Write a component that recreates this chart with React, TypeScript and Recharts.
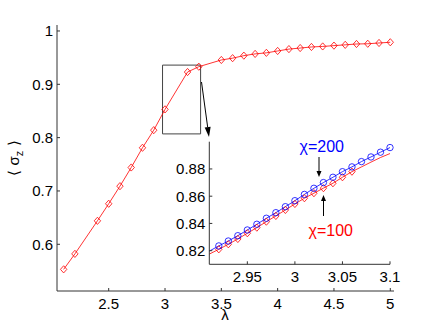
import React from 'react';
import { LineChart, Line, XAxis, YAxis, ReferenceArea } from 'recharts';

// main curve (chi = 100)
const lambdaMain = [2.1, 2.2, 2.4, 2.5, 2.6, 2.7, 2.8, 2.9, 3.0, 3.2, 3.3, 3.5, 3.6, 3.7, 3.8, 3.9, 4.0, 4.1, 4.2, 4.3, 4.4, 4.5, 4.6, 4.7, 4.8, 4.9, 5.0];
const sigmaMain = [0.553, 0.582, 0.644, 0.676, 0.709, 0.744, 0.781, 0.814, 0.853, 0.923, 0.933, 0.9456, 0.949, 0.9537, 0.957, 0.959, 0.9625, 0.966, 0.968, 0.970, 0.971, 0.9725, 0.974, 0.9756, 0.976, 0.9775, 0.9788];

// zoomed-in region
const lambdaZoom = [2.91, 2.92, 2.93, 2.94, 2.95, 2.96, 2.97, 2.98, 2.99, 3.0, 3.01, 3.02, 3.03, 3.04, 3.05, 3.06, 3.07, 3.08, 3.09, 3.1];
const sigmaChi100 = [0.8175, 0.821, 0.8247, 0.8286, 0.8328, 0.8369, 0.8413, 0.8455, 0.8499, 0.8543, 0.8585, 0.8622, 0.8659, 0.8695, 0.8739, 0.878, 0.8815, 0.885, 0.8884, 0.8913];
const sigmaChi200 = [0.8197, 0.8235, 0.8271, 0.831, 0.8352, 0.8394, 0.8438, 0.8479, 0.8523, 0.8567, 0.8613, 0.8658, 0.87, 0.8739, 0.878, 0.8815, 0.8854, 0.8888, 0.8923, 0.8957];

// markers only drawn inside these lambda ranges
const chi100Marked = [2.92, 3.06];
const chi200Marked = [2.92, 3.1];

const mainTicksX = [2.5, 3, 3.5, 4, 4.5, 5];
const mainTicksY = [0.6, 0.7, 0.8, 0.9, 1];
const zoomTicksX = [2.95, 3, 3.05, 3.1];
const zoomTicksY = [0.82, 0.84, 0.86, 0.88];

const mainData = lambdaMain.map((l, i) => ({ lambda: l, sz: sigmaMain[i] }));
const zoomData = lambdaZoom.map((l, i) => ({ lambda: l, chi100: sigmaChi100[i], chi200: sigmaChi200[i] }));

const RED = '#ff0000';
const BLUE = '#0000ff';
const AX = '#333';
const tickStyle = { fill: '#000', fontSize: 15 };

const inRange = (v: number, r: number[]) => v >= r[0] - 1e-6 && v <= r[1] + 1e-6;

function diamond(range?: number[]) {
  return (props: any) => {
    const { cx, cy, index, payload } = props;
    if (cx == null || cy == null || (range && !inRange(payload.lambda, range))) return <g key={index} />;
    return (
      <path
        key={index}
        d={`M${cx},${cy - 3.6}L${cx + 3.2},${cy}L${cx},${cy + 3.6}L${cx - 3.2},${cy}Z`}
        fill="none"
        stroke={RED}
        strokeWidth={0.8}
      />
    );
  };
}

function circle(range: number[]) {
  return (props: any) => {
    const { cx, cy, index, payload } = props;
    if (cx == null || cy == null || !inRange(payload.lambda, range)) return <g key={index} />;
    return <circle key={index} cx={cx} cy={cy} r={3.2} fill="none" stroke={BLUE} strokeWidth={0.8} />;
  };
}

function Arrow({ x1, y1, x2, y2, len = 8, half = 3 }: { x1: number; y1: number; x2: number; y2: number; len?: number; half?: number }) {
  const dx = x2 - x1;
  const dy = y2 - y1;
  const d = Math.hypot(dx, dy);
  const ux = dx / d;
  const uy = dy / d;
  const bx = x2 - ux * len;
  const by = y2 - uy * len;
  return (
    <g>
      <line x1={x1} y1={y1} x2={bx} y2={by} stroke="#000" strokeWidth={1} />
      <polygon points={`${x2},${y2} ${bx - uy * half},${by + ux * half} ${bx + uy * half},${by - ux * half}`} fill="#000" />
    </g>
  );
}

export default function App() {
  return (
    <div style={{ position: 'absolute', left: 0, top: 0, width: 436, height: 329, background: '#fff', fontFamily: '"Liberation Sans", Arial, sans-serif' }}>
      <div style={{ position: 'absolute', left: 0, top: 0 }}>
        <LineChart width={436} height={329} data={mainData} margin={{ top: 25, right: 42, bottom: 37, left: 56 }}>
          <XAxis
            type="number"
            dataKey="lambda"
            domain={[2.041, 5.033]}
            ticks={mainTicksX}
            interval={0}
            height={1}
            tickSize={-3}
            tickMargin={10}
            axisLine={{ stroke: AX }}
            tickLine={{ stroke: AX }}
            tick={tickStyle}
          />
          <YAxis
            type="number"
            domain={[0.5124, 1.0112]}
            ticks={mainTicksY}
            interval={0}
            width={1}
            tickSize={-3}
            tickMargin={7}
            axisLine={{ stroke: AX }}
            tickLine={{ stroke: AX }}
            tick={tickStyle}
          />
          <ReferenceArea x1={2.978} x2={3.316} y1={0.807} y2={0.936} fill="none" stroke="#444" strokeWidth={1} ifOverflow="visible" />
          <Line dataKey="sz" stroke={RED} strokeWidth={0.8} dot={diamond()} isAnimationActive={false} />
        </LineChart>
      </div>
      <div style={{ position: 'absolute', left: 150, top: 130 }}>
        <LineChart width={260} height={170} data={zoomData} margin={{ top: 11.7, right: 20, bottom: 34.7, left: 58.3 }}>
          <XAxis
            type="number"
            dataKey="lambda"
            domain={[2.91, 3.1]}
            ticks={zoomTicksX}
            interval={0}
            height={1}
            tickSize={-3}
            tickMargin={10}
            axisLine={{ stroke: AX }}
            tickLine={{ stroke: AX }}
            tick={tickStyle}
          />
          <YAxis
            type="number"
            domain={[0.81, 0.9]}
            ticks={zoomTicksY}
            interval={0}
            width={1}
            tickSize={-3}
            tickMargin={7}
            axisLine={{ stroke: AX }}
            tickLine={{ stroke: AX }}
            tick={tickStyle}
          />
          <Line dataKey="chi100" stroke={RED} strokeWidth={0.8} dot={diamond(chi100Marked)} isAnimationActive={false} />
          <Line dataKey="chi200" stroke={BLUE} strokeWidth={0.8} dot={circle(chi200Marked)} isAnimationActive={false} />
        </LineChart>
      </div>
      <svg width={436} height={329} style={{ position: 'absolute', left: 0, top: 0, pointerEvents: 'none' }}>
        <text transform="translate(18.5,158) rotate(-90)" textAnchor="middle" fontSize={15} fill="#000">
          {'⟨ σ'}
          <tspan fontSize={11} dy={4}>z</tspan>
          <tspan dy={-4}>{' ⟩'}</tspan>
        </text>
        <text x={225} y={319.5} textAnchor="middle" fontSize={15} fill="#000">λ</text>
        <Arrow x1={201.5} y1={82} x2={209} y2={137} len={10} half={3} />
        <text x={299.5} y={151.5} fontSize={16} fill={BLUE}>χ=200</text>
        <Arrow x1={319} y1={157} x2={319} y2={177} len={6} half={2.5} />
        <text x={308.5} y={235.5} fontSize={16} fill={RED}>χ=100</text>
        <Arrow x1={323.5} y1={216} x2={323.5} y2={195} len={6} half={2.5} />
      </svg>
    </div>
  );
}
